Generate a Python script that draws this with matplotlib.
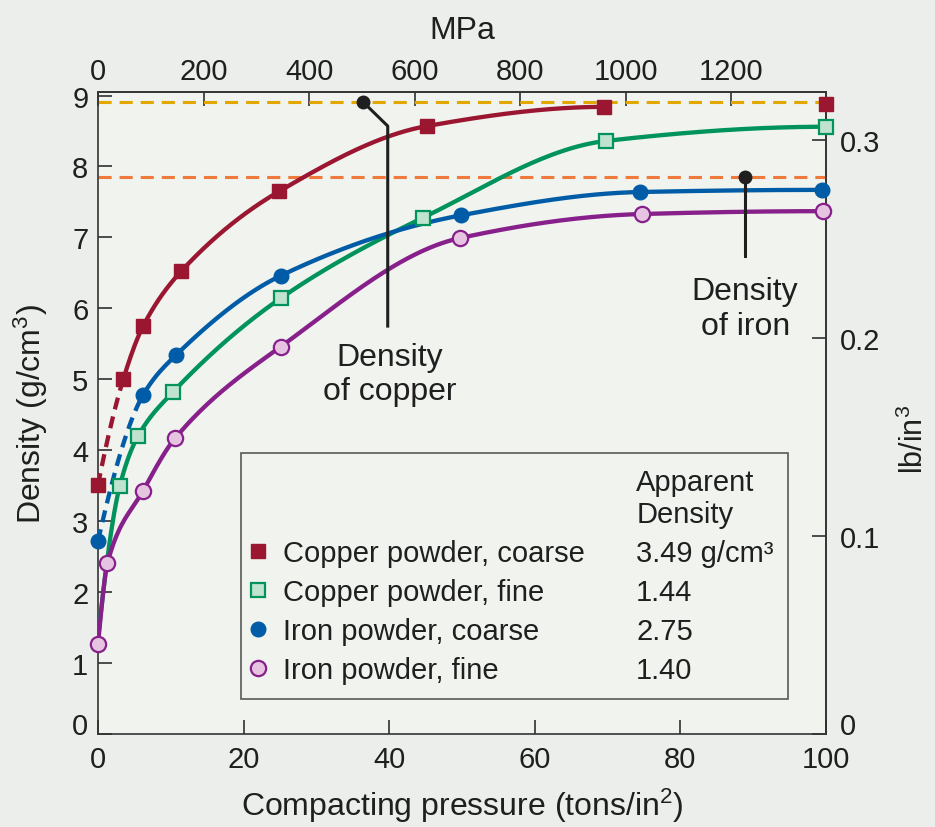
import numpy as np
import matplotlib
matplotlib.use("Agg")
import matplotlib.pyplot as plt
from matplotlib.lines import Line2D

plt.rcParams['font.family'] = ['Liberation Sans', 'DejaVu Sans']
plt.rcParams['mathtext.fontset'] = 'custom'
plt.rcParams['mathtext.rm'] = 'Liberation Sans'
plt.rcParams['mathtext.default'] = 'regular'

# compacting pressure (tons/in^2) and green density (g/cm^3)
cu_coarse_x = [0, 3.5, 6.2, 11.4, 24.9, 45.2, 69.5, 100]
cu_coarse_y = [3.51, 5.01, 5.75, 6.52, 7.65, 8.57, 8.84, 8.88]
cu_coarse_curve_end = 69.5      # last square is not joined to the curve
cu_coarse_dash_to = 3.5

cu_fine_x = [3.0, 5.5, 10.3, 25.2, 44.7, 69.8, 100]
cu_fine_y = [3.50, 4.20, 4.82, 6.15, 7.28, 8.36, 8.56]
cu_fine_start = (0, 1.34)       # curve starts at the loose powder

fe_coarse_x = [0, 6.2, 10.7, 25.1, 49.8, 74.4, 99.4]
fe_coarse_y = [2.72, 4.78, 5.34, 6.46, 7.31, 7.64, 7.67]
fe_coarse_dash_to = 6.2

fe_fine_x = [0, 1.3, 6.2, 10.6, 25.1, 49.7, 74.7, 99.6]
fe_fine_y = [1.27, 2.41, 3.43, 4.17, 5.46, 6.99, 7.33, 7.37]

names = ["Copper powder, coarse", "Copper powder, fine",
         "Iron powder, coarse", "Iron powder, fine"]
apparent = ["3.49 g/cm³", "1.44", "2.75", "1.40"]

cu_density = 8.91
fe_density = 7.85
cu_note = ([36.4, 39.8, 39.8], [8.91, 8.57, 5.75])
fe_note = ([88.9, 88.9], [7.85, 6.74])

RED = '#9a1631'
GREEN = '#00935b'
GREEN_FILL = '#bfe3cf'
BLUE = '#005ca6'
PURPLE = '#88208b'
PURPLE_FILL = '#e6c4e1'
INK = '#1f1f1f'


def pchip(x, y, xs):
    x = np.asarray(x, float)
    y = np.asarray(y, float)
    h = np.diff(x)
    d = np.diff(y) / h
    m = np.zeros_like(y)
    for k in range(1, len(x) - 1):
        if d[k - 1] * d[k] > 0:
            w1 = 2 * h[k] + h[k - 1]
            w2 = h[k] + 2 * h[k - 1]
            m[k] = (w1 + w2) / (w1 / d[k - 1] + w2 / d[k])

    def end(h0, h1, d0, d1):
        s = ((2 * h0 + h1) * d0 - h0 * d1) / (h0 + h1)
        if np.sign(s) != np.sign(d0):
            s = 0
        elif np.sign(d0) != np.sign(d1) and abs(s) > 3 * abs(d0):
            s = 3 * d0
        return s
    m[0] = end(h[0], h[1], d[0], d[1])
    m[-1] = end(h[-1], h[-2], d[-1], d[-2])
    i = np.clip(np.searchsorted(x, xs) - 1, 0, len(h) - 1)
    t = (xs - x[i]) / h[i]
    h00 = 2 * t**3 - 3 * t**2 + 1
    h10 = t**3 - 2 * t**2 + t
    h01 = -2 * t**3 + 3 * t**2
    h11 = t**3 - t**2
    return h00 * y[i] + h10 * h[i] * m[i] + h01 * y[i + 1] + h11 * h[i] * m[i + 1]


def draw_curve(ax, xp, yp, color, dash_to=None):
    if dash_to is not None:
        xd = np.linspace(xp[0], dash_to, 60)
        ax.plot(xd, pchip(xp, yp, xd), color=color, lw=3.1,
                ls=(0, (2.8, 1.7)), dash_capstyle='butt', zorder=3)
        xs = np.linspace(dash_to, xp[-1], 400)
    else:
        xs = np.linspace(xp[0], xp[-1], 400)
    ax.plot(xs, pchip(xp, yp, xs), color=color, lw=3.1, zorder=3,
            solid_capstyle='butt')


fig = plt.figure(figsize=(9.35, 8.28), dpi=100, facecolor='#ebeeea')
ax = fig.add_axes([0.1048, 0.1123, 0.7786, 0.7754], facecolor='#f0f3ee')

ax.axhline(cu_density, color='#e2a800', lw=2.2, ls=(0, (4.3, 2.6)), zorder=1)
ax.axhline(fe_density, color='#ef7a3c', lw=2.2, ls=(0, (4.3, 2.6)), zorder=1)

# curves
n = cu_coarse_x.index(cu_coarse_curve_end) + 1
draw_curve(ax, cu_coarse_x[:n], cu_coarse_y[:n], RED, cu_coarse_dash_to)
draw_curve(ax, [cu_fine_start[0]] + cu_fine_x, [cu_fine_start[1]] + cu_fine_y, GREEN)
draw_curve(ax, fe_coarse_x, fe_coarse_y, BLUE, fe_coarse_dash_to)
draw_curve(ax, fe_fine_x, fe_fine_y, PURPLE)

styles = [dict(marker='s', ms=10, mfc=RED, mec=RED, mew=1),
          dict(marker='s', ms=10.5, mfc=GREEN_FILL, mec=GREEN, mew=1.6),
          dict(marker='o', ms=10.5, mfc=BLUE, mec=BLUE, mew=1),
          dict(marker='o', ms=11, mfc=PURPLE_FILL, mec=PURPLE, mew=1.6)]
for (xs, ys), st in zip([(cu_coarse_x, cu_coarse_y), (cu_fine_x, cu_fine_y),
                         (fe_coarse_x, fe_coarse_y), (fe_fine_x, fe_fine_y)], styles):
    ax.plot(xs, ys, ls='none', zorder=4, clip_on=False, **st)

# density annotations
ax.plot(*cu_note, color=INK, lw=2.2, zorder=5)
ax.plot(cu_note[0][0], cu_note[1][0], 'o', color=INK, ms=9, zorder=5)
ax.text(40.1, 5.53, "Density\nof copper", ha='center', va='top', fontsize=23,
        color=INK, linespacing=1.2)
ax.plot(*fe_note, color=INK, lw=2.2, zorder=5)
ax.plot(fe_note[0][0], fe_note[1][0], 'o', color=INK, ms=9, zorder=5)
ax.text(88.9, 6.45, "Density\nof iron", ha='center', va='top', fontsize=23,
        color=INK, linespacing=1.2)

ax.set_xlim(0, 100)
ax.set_ylim(0, 9.05)
ax.set_xticks(range(0, 101, 20))
ax.set_yticks(range(0, 10))
ax.tick_params(direction='in', length=10, width=1.1, labelsize=21,
               colors=INK, top=False, right=False)
ax.tick_params(axis='x', pad=8)
ax.tick_params(axis='y', pad=7)
ax.yaxis.get_major_ticks()[0].label1.set_va('baseline')
for s in ax.spines.values():
    s.set_color('#333333')
    s.set_linewidth(1.2)
ax.set_xlabel("Compacting pressure (tons/in$^2$)", fontsize=23, color=INK, labelpad=9)
ax.set_ylabel("Density (g/cm$^3$)", fontsize=23, color=INK, labelpad=16)

top = ax.secondary_xaxis('top', functions=(lambda t: t * 13.79, lambda m: m / 13.79))
top.set_xticks(range(0, 1201, 200))
top.tick_params(direction='in', length=10, width=1.1, labelsize=21, colors=INK, pad=5)
top.set_xlabel("MPa", fontsize=23, color=INK, labelpad=14)

right = ax.secondary_yaxis('right', functions=(lambda g: g * 0.0358, lambda b: b / 0.0358))
right.set_yticks([0, 0.1, 0.2, 0.3], ["0", "0.1", "0.2", "0.3"])
right.tick_params(direction='in', length=10, width=1.1, labelsize=21, colors=INK, pad=10)
right.yaxis.get_major_ticks()[0].label2.set_va('baseline')
right.set_ylabel("lb/in$^3$", fontsize=22, color=INK, labelpad=13, y=0.46)
for sec in (top, right):
    for s in sec.spines.values():
        s.set_color('#333333')
        s.set_linewidth(1.2)

# legend: marker + name column, apparent density column
blank = Line2D([], [], ls='none')
header = "Apparent\nDensity"
handles = [blank] + [Line2D([], [], ls='none', **st) for st in styles] + [blank] * 5
labels = [header] + names + [header] + apparent
leg = ax.legend(handles, labels, ncol=2, loc='upper left',
                bbox_to_anchor=(0.1964, 0.4377), borderaxespad=0,
                fancybox=False, edgecolor='#333333', facecolor='none',
                fontsize=21, handlelength=0.2, handletextpad=0.75,
                borderpad=0.5, labelspacing=0.38, columnspacing=0.8)
leg.get_frame().set_linewidth(1.2)
for t in leg.get_texts():
    t.set_color(INK)
leg.get_texts()[0].set_alpha(0)   # spacer so both columns line up

fig.savefig("out.png", dpi=100, facecolor=fig.get_facecolor())
